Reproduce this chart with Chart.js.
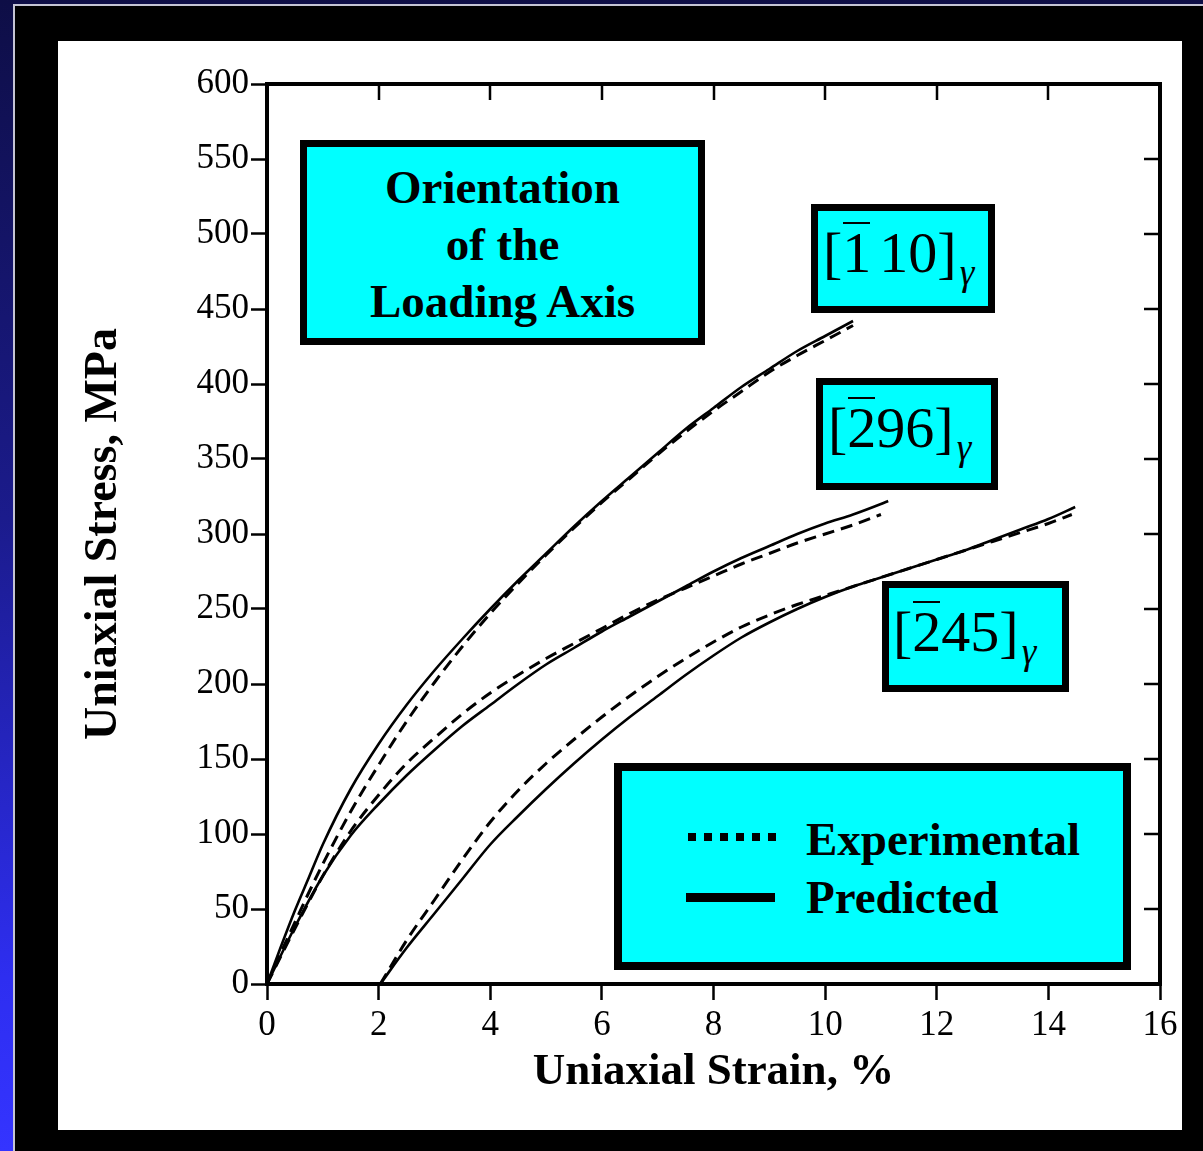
<!DOCTYPE html>
<html>
<head>
<meta charset="utf-8">
<script src="https://cdn.jsdelivr.net/npm/chart.js@4.4.1/dist/chart.umd.min.js"></script>
<style>
  html, body { margin: 0; padding: 0; }
  body {
    width: 1203px; height: 1151px; position: relative; overflow: hidden;
    background: linear-gradient(180deg, #0e0e46 0%, #1b1b8c 45%, #2e2ef0 85%, #3434ff 100%);
    font-family: "Liberation Serif", "DejaVu Serif", serif;
  }
  #frame { position: absolute; left: 13px; top: 4px; right: 0; bottom: 0; background: #000;
           border-left: 2px solid #c4c4d4; border-top: 2px solid #c4c4d4; }
  #panel { position: absolute; left: 58px; top: 41px; width: 1124px; height: 1089px; background: #fff; }
  #panel canvas { display: block; }
  .box { position: absolute; box-sizing: border-box; background: #00ffff; border: 7px solid #000; }
  .t { position: absolute; color: #000; white-space: nowrap; }
  .bold { font-weight: bold; font-size: 47px; }
  .mi { font-size: 58px; line-height: 58px; }
  .ob { position: relative; }
  .ob::before { content: ""; position: absolute; left: 1px; right: 1px; top: 2px; border-top: 2px solid #000; }
  .g { font-style: italic; font-size: 37px; position: relative; top: 13px; margin-left: 3px; }
  .dots { position: absolute; height: 8px; background: repeating-linear-gradient(to right, #000 0 8px, transparent 8px 16px); }
  .solid { position: absolute; height: 9px; background: #000; }
</style>
</head>
<body>
<div id="frame"></div>
<div id="panel"><canvas id="c" width="1124" height="1089"></canvas></div>

<!-- annotation boxes -->
<div class="box" style="left:300px; top:140px; width:405px; height:205px;"></div>
<div class="t bold" style="left:300px; width:405px; top:159px; line-height:57px; text-align:center;">Orientation<br>of the<br>Loading Axis</div>

<div class="box" style="left:811px; top:204px; width:184px; height:109px;"></div>
<div class="t mi" style="left:823px; top:224px;">[<span class="ob">1</span><span style="margin-left:8px">10]</span><span class="g">γ</span></div>

<div class="box" style="left:816px; top:378px; width:182px; height:112px;"></div>
<div class="t mi" style="left:828px; top:399px;">[<span class="ob">2</span>96]<span class="g">γ</span></div>

<div class="box" style="left:882px; top:581px; width:187px; height:111px;"></div>
<div class="t mi" style="left:893px; top:603px;">[<span class="ob">2</span>45]<span class="g">γ</span></div>

<div class="box" style="left:614px; top:763px; width:517px; height:207px; border-width:8px;"></div>
<div class="dots" style="left:688px; top:833px; width:88px;"></div>
<div class="solid" style="left:686px; top:893px; width:89px;"></div>
<div class="t bold" style="left:806px; top:810px; line-height:58px;">Experimental<br>Predicted</div>

<script>
// [-110] orientation
const strain110Pred = [0, 0.25, 0.5, 0.75, 1, 1.5, 2, 2.5, 3, 3.5, 4, 4.5, 5, 5.5, 6, 6.5, 7, 7.5, 8, 8.5, 9, 9.5, 10, 10.5];
const stress110Pred = [0, 25, 49, 71, 93, 130, 160, 186, 209, 230, 250, 269, 287, 305, 322, 338, 354, 370, 384, 398, 410, 422, 432, 442];
const strain110Exp  = [0, 0.25, 0.5, 0.75, 1, 1.5, 2, 2.5, 3, 3.5, 4, 4.5, 5, 5.5, 6, 6.5, 7, 7.5, 8, 8.5, 9, 9.5, 10, 10.5];
const stress110Exp  = [0, 21, 41, 61, 80, 115, 146, 175, 201, 225, 247, 267, 286, 304, 321, 337, 353, 368, 382, 395, 408, 419, 429, 439];

// [-296] orientation
const strain296Pred = [0, 0.5, 1, 1.5, 2, 2.5, 3, 3.5, 4, 4.5, 5, 5.5, 6, 6.5, 7, 7.5, 8, 8.5, 9, 9.5, 10, 10.5, 11, 11.13];
const stress296Pred = [0, 38, 72, 99, 120, 139, 156, 172, 186, 200, 213, 224, 235, 245, 255, 265, 275, 284, 292, 300, 307, 313, 320, 322];
const strain296Exp  = [0, 0.5, 1, 1.5, 2, 2.5, 3, 3.5, 4, 4.5, 5, 5.5, 6, 6.5, 7, 7.5, 8, 8.5, 9, 9.5, 10, 10.5, 11];
const stress296Exp  = [0, 37, 72, 102, 126, 147, 164, 180, 194, 206, 217, 227, 237, 247, 256, 264, 272, 280, 287, 294, 300, 306, 313];

// [-245] orientation
const strain245Pred = [2.03, 2.5, 3, 3.5, 4, 4.5, 5, 5.5, 6, 6.5, 7, 7.5, 8, 8.5, 9, 9.5, 10, 10.5, 11, 11.5, 12, 12.5, 13, 13.5, 14, 14.48];
const stress245Pred = [0, 24, 47, 70, 93, 112, 130, 147, 163, 178, 192, 206, 219, 231, 241, 250, 258, 265, 271, 277, 283, 289, 296, 303, 310, 318];
const strain245Exp  = [2.03, 2.5, 3, 3.5, 4, 4.5, 5, 5.5, 6, 6.5, 7, 7.5, 8, 8.5, 9, 9.5, 10, 10.5, 11, 11.5, 12, 12.5, 13, 13.5, 14, 14.42];
const stress245Exp  = [0, 29, 56, 83, 108, 129, 147, 163, 178, 192, 205, 217, 228, 238, 246, 253, 259, 265, 271, 277, 283, 289, 295, 301, 307, 313];

const xTickValues = [0, 2, 4, 6, 8, 10, 12, 14, 16];
const yTickValues = [0, 50, 100, 150, 200, 250, 300, 350, 400, 450, 500, 550, 600];

const pts = (xs, ys) => xs.map((x, i) => ({ x: x, y: ys[i] }));

const solidStyle = { borderColor: '#000', borderWidth: 2.6, pointRadius: 0, fill: false, cubicInterpolationMode: 'monotone' };
const dashStyle  = { borderColor: '#000', borderWidth: 3, borderDash: [12, 7], pointRadius: 0, fill: false, cubicInterpolationMode: 'monotone' };

const serif = 'Liberation Serif';

// top and right frame edges with inward ticks
const boxFrame = {
  id: 'boxFrame',
  afterDraw(chart) {
    const { ctx, chartArea: a, scales: { x, y } } = chart;
    ctx.save();
    ctx.strokeStyle = '#000';
    ctx.lineCap = 'square';
    ctx.lineWidth = 4;
    ctx.beginPath();
    ctx.moveTo(a.left, a.top); ctx.lineTo(a.right, a.top);
    ctx.moveTo(a.right, a.top); ctx.lineTo(a.right, a.bottom);
    ctx.stroke();
    ctx.lineCap = 'butt';
    ctx.lineWidth = 2.5;
    ctx.beginPath();
    xTickValues.slice(1, -1).forEach(v => {
      const px = Math.round(x.getPixelForValue(v));
      ctx.moveTo(px, a.top); ctx.lineTo(px, a.top + 16);
    });
    yTickValues.slice(1, -1).forEach(v => {
      const py = Math.round(y.getPixelForValue(v));
      ctx.moveTo(a.right, py); ctx.lineTo(a.right - 16, py);
    });
    ctx.stroke();
    ctx.restore();
  }
};

new Chart(document.getElementById('c'), {
  type: 'line',
  data: {
    datasets: [
      Object.assign({ label: '[-110] Predicted', data: pts(strain110Pred, stress110Pred) }, solidStyle),
      Object.assign({ label: '[-110] Experimental', data: pts(strain110Exp, stress110Exp) }, dashStyle),
      Object.assign({ label: '[-296] Predicted', data: pts(strain296Pred, stress296Pred) }, solidStyle),
      Object.assign({ label: '[-296] Experimental', data: pts(strain296Exp, stress296Exp) }, dashStyle),
      Object.assign({ label: '[-245] Predicted', data: pts(strain245Pred, stress245Pred) }, solidStyle),
      Object.assign({ label: '[-245] Experimental', data: pts(strain245Exp, stress245Exp) }, dashStyle)
    ]
  },
  options: {
    responsive: false,
    animation: false,
    layout: { padding: { top: 43, right: 22, left: 0, bottom: 0 } },
    plugins: { legend: { display: false }, tooltip: { enabled: false } },
    scales: {
      x: {
        type: 'linear', position: 'bottom', min: 0, max: 16,
        afterBuildTicks: s => { s.ticks = xTickValues.map(v => ({ value: v })); },
        ticks: { color: '#000', font: { family: serif, size: 35 }, padding: 5, maxRotation: 0, autoSkip: false },
        grid: { drawOnChartArea: false, drawTicks: true, tickLength: 16, tickWidth: 2.5, tickColor: '#000' },
        border: { display: true, width: 4, color: '#000' },
        title: { display: true, text: 'Uniaxial Strain, %', color: '#000',
                 font: { family: serif, size: 45, weight: 'bold' }, padding: { top: 0, bottom: 31 } },
        afterFit: s => { s.height = 146; s.paddingLeft = 0; s.paddingRight = 0; }
      },
      y: {
        type: 'linear', position: 'left', min: 0, max: 600,
        afterBuildTicks: s => { s.ticks = yTickValues.map(v => ({ value: v })); },
        ticks: { color: '#000', font: { family: serif, size: 35 }, padding: 2, autoSkip: false },
        grid: { drawOnChartArea: false, drawTicks: true, tickLength: 16, tickWidth: 2.5, tickColor: '#000' },
        border: { display: true, width: 4, color: '#000' },
        title: { display: true, text: 'Uniaxial Stress, MPa', color: '#000',
                 font: { family: serif, size: 46, weight: 'bold' }, padding: { top: 19, bottom: 0 } },
        afterFit: s => { s.width = 209; s.paddingTop = 0; s.paddingBottom = 0; }
      }
    }
  },
  plugins: [boxFrame]
});
</script>
</body>
</html>
